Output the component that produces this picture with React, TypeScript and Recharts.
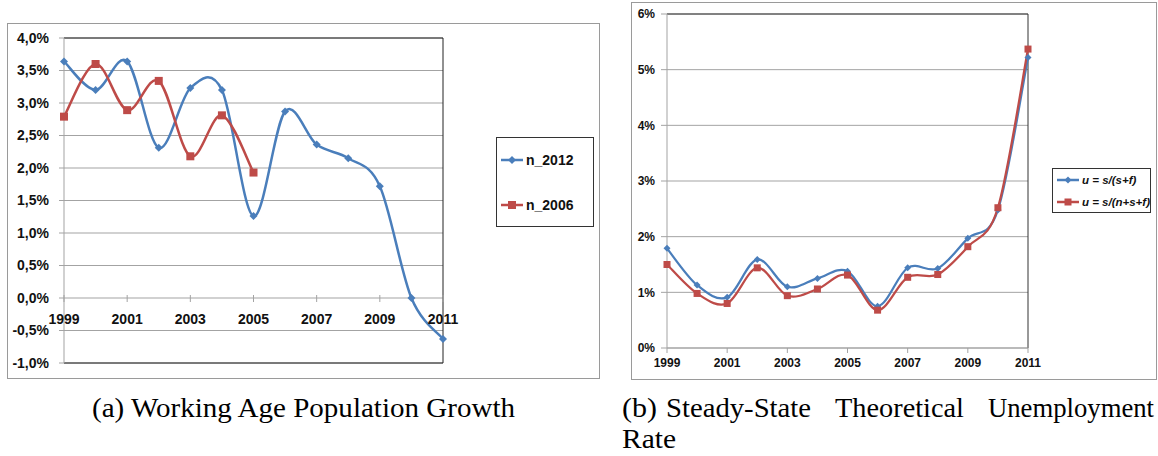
import React from 'react';
import {
  LineChart,
  Line,
  XAxis,
  YAxis,
  CartesianGrid,
  ReferenceLine,
  Legend,
} from 'recharts';

const years = ['1999', '2000', '2001', '2002', '2003', '2004', '2005', '2006', '2007', '2008', '2009', '2010', '2011'];

// (a) working age population growth, %
const n2012 = [3.64, 3.2, 3.64, 2.31, 3.23, 3.2, 1.26, 2.87, 2.36, 2.15, 1.72, 0.0, -0.63];
const n2006 = [2.79, 3.6, 2.89, 3.34, 2.18, 2.81, 1.93, null, null, null, null, null, null];

// (b) steady-state theoretical unemployment rate, %
const uSF = [1.79, 1.13, 0.91, 1.59, 1.1, 1.25, 1.38, 0.75, 1.44, 1.43, 1.97, 2.48, 5.22];
const uNSF = [1.5, 0.98, 0.8, 1.44, 0.94, 1.06, 1.31, 0.68, 1.27, 1.32, 1.82, 2.52, 5.37];

const leftTicks = [-1, -0.5, 0, 0.5, 1, 1.5, 2, 2.5, 3, 3.5, 4];
const rightTicks = [0, 1, 2, 3, 4, 5, 6];

const leftNames = ['n_2012', 'n_2006'];
const rightNames = ['u = s/(s+f)', 'u = s/(n+s+f)'];

const leftData = years.map((year, i) => ({ year, n_2012: n2012[i], n_2006: n2006[i] }));
const rightData = years.map((year, i) => ({ year, uSF: uSF[i], uNSF: uNSF[i] }));

const BLUE = '#4a7ebb';
const RED = '#be4b48';
const GRID = '#a3a3a3';
const FONT = '"Liberation Sans", Arial, sans-serif';
const SERIF = '"Liberation Serif", "DejaVu Serif", serif';

// Excel-style smoothed line (Catmull-Rom through the points)
const excelCurve = (context: any) => {
  let pts: number[][] = [];
  return {
    areaStart() {},
    areaEnd() {},
    lineStart() {
      pts = [];
    },
    lineEnd() {
      if (!pts.length) return;
      context.moveTo(pts[0][0], pts[0][1]);
      for (let i = 0; i < pts.length - 1; i++) {
        const p0 = pts[i - 1] || pts[i];
        const p1 = pts[i];
        const p2 = pts[i + 1];
        const p3 = pts[i + 2] || p2;
        context.bezierCurveTo(
          p1[0] + (p2[0] - p0[0]) / 6,
          p1[1] + (p2[1] - p0[1]) / 6,
          p2[0] - (p3[0] - p1[0]) / 6,
          p2[1] - (p3[1] - p1[1]) / 6,
          p2[0],
          p2[1]
        );
      }
    },
    point(x: number, y: number) {
      pts.push([+x, +y]);
    },
  };
};

const diamond = (size: number) => (props: any) => {
  const { cx, cy, index } = props;
  if (cx == null || cy == null || props.value == null) return <g key={`d${index}`} />;
  const s = size;
  return (
    <polygon
      key={`d${index}`}
      points={`${cx},${cy - s} ${cx + s},${cy} ${cx},${cy + s} ${cx - s},${cy}`}
      fill={BLUE}
    />
  );
};

const square = (size: number) => (props: any) => {
  const { cx, cy, index } = props;
  if (cx == null || cy == null || props.value == null) return <g key={`s${index}`} />;
  return <rect key={`s${index}`} x={cx - size / 2} y={cy - size / 2} width={size} height={size} fill={RED} />;
};

const fmtLeft = (v: number) => `${v.toFixed(1).replace('.', ',')}%`;

// left plot: height 325px over -1..4, zero line sits 65px above the bottom
const LEFT_ZERO_OFFSET = 65;

const LeftXTick = (props: any) => {
  const { x, y, payload } = props;
  const zy = y - LEFT_ZERO_OFFSET;
  return (
    <g>
      <line x1={x} x2={x} y1={zy - 3} y2={zy + 4} stroke={GRID} />
      <text x={x} y={zy + 26} textAnchor="middle" fontSize={14} fontWeight="bold" fill="#111" fontFamily={FONT}>
        {payload.value}
      </text>
    </g>
  );
};

const makeLegend = (names: string[], opts: { fontSize: number; italic: boolean; gap: number; sq: number; dm: number }) => () => (
  <div
    style={{
      border: '1px solid #333',
      background: '#fff',
      width: '100%',
      height: '100%',
      boxSizing: 'border-box',
      display: 'flex',
      flexDirection: 'column',
      justifyContent: 'center',
      gap: opts.gap,
      paddingLeft: 3,
    }}
  >
    {names.map((name, i) => {
      const color = i === 0 ? BLUE : RED;
      return (
        <div key={name} style={{ display: 'flex', alignItems: 'center', height: 14 }}>
          <svg width={24} height={12} style={{ marginRight: 2 }}>
            <line x1={1} x2={23} y1={6} y2={6} stroke={color} strokeWidth={2.5} />
            {i === 0 ? (
              <polygon points={`12,${6 - opts.dm} ${12 + opts.dm},6 12,${6 + opts.dm} ${12 - opts.dm},6`} fill={color} />
            ) : (
              <rect x={12 - opts.sq / 2} y={6 - opts.sq / 2} width={opts.sq} height={opts.sq} fill={color} />
            )}
          </svg>
          <span
            style={{
              fontFamily: FONT,
              fontSize: opts.fontSize,
              fontWeight: 'bold',
              fontStyle: opts.italic ? 'italic' : 'normal',
              color: '#111',
              whiteSpace: 'nowrap',
            }}
          >
            {name}
          </span>
        </div>
      );
    })}
  </div>
);

const leftLegend = makeLegend(leftNames, { fontSize: 14, italic: false, gap: 31, sq: 8, dm: 4 });
const rightLegend = makeLegend(rightNames, { fontSize: 11.5, italic: true, gap: 8, sq: 7, dm: 3.5 });

export default function App() {
  return (
    <div
      style={{
        position: 'absolute',
        left: 0,
        top: 0,
        width: 1158,
        height: 456,
        overflow: 'hidden',
        background: '#fff',
      }}
    >
      {/* frames */}
      <div style={{ position: 'absolute', left: 7, top: 23, width: 593, height: 356, border: '1px solid #9a9a9a', boxSizing: 'border-box' }} />
      <div style={{ position: 'absolute', left: 631, top: 2, width: 526, height: 378, border: '1px solid #9a9a9a', boxSizing: 'border-box' }} />

      {/* (a) */}
      <div style={{ position: 'absolute', left: 0, top: 0 }}>
        <LineChart width={600} height={380} data={leftData} margin={{ top: 38, right: 157, bottom: 0, left: 8 }}>
          <CartesianGrid horizontal vertical={false} stroke={GRID} />
          <XAxis
            dataKey="year"
            interval={1}
            height={17}
            axisLine={false}
            tickLine={false}
            tickSize={0}
            tickMargin={0}
            tick={<LeftXTick />}
          />
          <YAxis
            type="number"
            domain={[-1, 4]}
            ticks={leftTicks}
            width={56}
            tickFormatter={fmtLeft}
            axisLine={{ stroke: GRID }}
            tickLine={{ stroke: GRID }}
            tickSize={5}
            tickMargin={10}
            tick={{ fill: '#111', fontSize: 14, fontWeight: 'bold', fontFamily: FONT }}
          />
          <ReferenceLine y={4} stroke="#222" />
          <ReferenceLine y={-1} stroke="#222" />
          <ReferenceLine x="2011" stroke="#222" />
          <Line
            dataKey="n_2012"
            name={leftNames[0]}
            type={excelCurve as any}
            stroke={BLUE}
            strokeWidth={2.5}
            dot={diamond(4)}
            activeDot={false}
            isAnimationActive={false}
          />
          <Line
            dataKey="n_2006"
            name={leftNames[1]}
            type={excelCurve as any}
            stroke={RED}
            strokeWidth={2.5}
            dot={square(8)}
            activeDot={false}
            isAnimationActive={false}
          />
          <Legend
            layout="vertical"
            align="center"
            verticalAlign="middle"
            content={leftLegend}
            wrapperStyle={{ position: 'absolute', left: 496, top: 137, width: 98, height: 90 }}
          />
        </LineChart>
      </div>

      {/* (b) */}
      <div style={{ position: 'absolute', left: 620, top: 0 }}>
        <LineChart width={538} height={380} data={rightData} margin={{ top: 14, right: 130, bottom: 6, left: 7 }}>
          <CartesianGrid horizontal vertical={false} stroke={GRID} />
          <XAxis
            dataKey="year"
            interval={1}
            height={26}
            axisLine={{ stroke: GRID }}
            tickLine={{ stroke: GRID }}
            tickSize={5}
            tickMargin={5}
            tick={{ fill: '#111', fontSize: 12, fontWeight: 'bold', fontFamily: FONT }}
          />
          <YAxis
            type="number"
            domain={[0, 6]}
            ticks={rightTicks}
            width={40}
            tickFormatter={(v: number) => `${v}%`}
            axisLine={{ stroke: GRID }}
            tickLine={{ stroke: GRID }}
            tickSize={6}
            tickMargin={6}
            tick={{ fill: '#111', fontSize: 12, fontWeight: 'bold', fontFamily: FONT }}
          />
          <ReferenceLine y={6} stroke="#333" />
          <ReferenceLine x="2011" stroke="#333" />
          <Line
            dataKey="uSF"
            name={rightNames[0]}
            type={excelCurve as any}
            stroke={BLUE}
            strokeWidth={2.25}
            dot={diamond(3.5)}
            activeDot={false}
            isAnimationActive={false}
          />
          <Line
            dataKey="uNSF"
            name={rightNames[1]}
            type={excelCurve as any}
            stroke={RED}
            strokeWidth={2.25}
            dot={square(7)}
            activeDot={false}
            isAnimationActive={false}
          />
          <Legend
            layout="vertical"
            align="center"
            verticalAlign="middle"
            content={rightLegend}
            wrapperStyle={{ position: 'absolute', left: 432, top: 168, width: 99, height: 45 }}
          />
        </LineChart>
      </div>

      {/* captions (justified LaTeX-style) */}
      <svg width={1158} height={456} style={{ position: 'absolute', left: 0, top: 0, pointerEvents: 'none' }}>
        <g fontFamily={SERIF} fontSize={27} fill="#000">
          <text x={92} y={417} textLength={423} lengthAdjust="spacingAndGlyphs">
            (a) Working Age Population Growth
          </text>
          <text x={622} y={417} textLength={35} lengthAdjust="spacingAndGlyphs">(b)</text>
          <text x={666} y={417} textLength={145} lengthAdjust="spacingAndGlyphs">Steady-State</text>
          <text x={835} y={417} textLength={129} lengthAdjust="spacingAndGlyphs">Theoretical</text>
          <text x={988} y={417} textLength={166} lengthAdjust="spacingAndGlyphs">Unemployment</text>
          <text x={622} y={448} textLength={54} lengthAdjust="spacingAndGlyphs">Rate</text>
        </g>
      </svg>
    </div>
  );
}
